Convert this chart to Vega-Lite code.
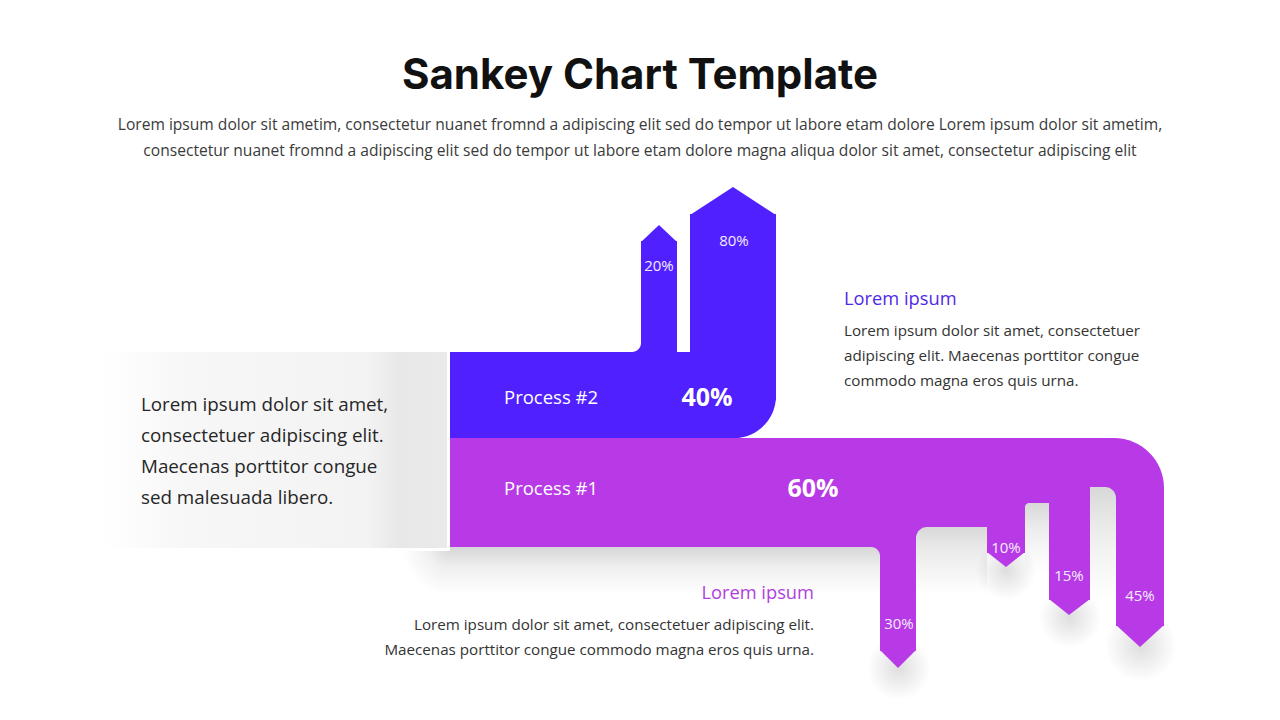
{
  "$schema": "https://vega.github.io/schema/vega-lite/v6.json",
  "width": 1280,
  "height": 720,
  "padding": 0,
  "autosize": {"type": "none"},
  "background": "#ffffff",
  "config": {"view": {"stroke": null}},
  "datasets": {
    "purpleBand": [{"x": 450, "x2": 1164, "y": 438, "y2": 547}],
    "purpleCols": [
      {"x": 880, "x2": 916, "y": 540, "y2": 651},
      {"x": 866, "x2": 916, "y": 540, "y2": 562},
      {"x": 987, "x2": 1025, "y": 540, "y2": 553},
      {"x": 1049, "x2": 1090, "y": 540, "y2": 600},
      {"x": 1116, "x2": 1164, "y": 500, "y2": 626}
    ],
    "purpleTips": [
      {"id": "p30", "x": 880, "y": 650, "y2": 645},
      {"id": "p30", "x": 898, "y": 668, "y2": 645},
      {"id": "p30", "x": 916, "y": 650, "y2": 645},
      {"id": "p10", "x": 987, "y": 552, "y2": 547},
      {"id": "p10", "x": 1006, "y": 567, "y2": 547},
      {"id": "p10", "x": 1025, "y": 552, "y2": 547},
      {"id": "p15", "x": 1049, "y": 599, "y2": 594},
      {"id": "p15", "x": 1069, "y": 615, "y2": 594},
      {"id": "p15", "x": 1090, "y": 599, "y2": 594},
      {"id": "p45", "x": 1116, "y": 625, "y2": 620},
      {"id": "p45", "x": 1140, "y": 647, "y2": 620},
      {"id": "p45", "x": 1164, "y": 625, "y2": 620}
    ],
    "tipShadows": [
      {"x": 867, "x2": 931, "y": 636, "y2": 700},
      {"x": 976, "x2": 1036, "y": 540, "y2": 600},
      {"x": 1039, "x2": 1101, "y": 586, "y2": 648},
      {"x": 1105, "x2": 1177, "y": 610, "y2": 682}
    ],
    "gapA": [{"x": 916, "x2": 987, "y": 527, "y2": 595}],
    "gapB": [{"x": 1025, "x2": 1049, "y": 503, "y2": 575}],
    "gapC": [{"x": 1090, "x2": 1116, "y": 487, "y2": 600}],
    "filletWhite": [{"x": 860, "x2": 880, "y": 547, "y2": 566}],
    "gapD": [{"x": 450, "x2": 880, "y": 547, "y2": 595}],
    "gapDLeft": [{"x": 402, "x2": 450, "y": 547, "y2": 595}],
    "boxWhite": [{"x": 100, "x2": 450, "y": 352, "y2": 551}],
    "box": [{"x": 100, "x2": 447, "y": 352, "y2": 548}],
    "blueBand": [{"x": 450, "x2": 776, "y": 352, "y2": 438}],
    "blueCols": [
      {"x": 690, "x2": 776, "y": 214, "y2": 400},
      {"x": 641, "x2": 677, "y": 241, "y2": 360},
      {"x": 626, "x2": 677, "y": 338, "y2": 360}
    ],
    "blueFillet": [{"x": 596, "x2": 641, "y": 318, "y2": 352}],
    "blueTips": [
      {"id": "b20", "x": 641, "y": 242, "y2": 248},
      {"id": "b20", "x": 659, "y": 225, "y2": 248},
      {"id": "b20", "x": 677, "y": 242, "y2": 248},
      {"id": "b80", "x": 690, "y": 215, "y2": 221},
      {"id": "b80", "x": 733, "y": 187, "y2": 221},
      {"id": "b80", "x": 776, "y": 215, "y2": 221}
    ],
    "title": [{"t": "Sankey Chart Template", "x": 640, "y": 89}],
    "subtitle": [
      {"t": "Lorem ipsum dolor sit ametim, consectetur nuanet fromnd a adipiscing elit sed do tempor ut labore etam dolore Lorem ipsum dolor sit ametim,", "x": 640, "y": 130},
      {"t": "consectetur nuanet fromnd a adipiscing elit sed do tempor ut labore etam dolore magna aliqua dolor sit amet, consectetur adipiscing elit", "x": 640, "y": 156}
    ],
    "boxText": [
      {"t": "Lorem ipsum dolor sit amet,", "x": 141, "y": 411},
      {"t": "consectetuer adipiscing elit.", "x": 141, "y": 442},
      {"t": "Maecenas porttitor congue", "x": 141, "y": 473},
      {"t": "sed malesuada libero.", "x": 141, "y": 504}
    ],
    "procLabels": [
      {"t": "Process #2", "x": 504, "y": 404},
      {"t": "Process #1", "x": 504, "y": 495}
    ],
    "procPct": [
      {"t": "40%", "x": 707, "y": 406},
      {"t": "60%", "x": 813, "y": 497}
    ],
    "smallPct": [
      {"t": "20%", "x": 659, "y": 271},
      {"t": "80%", "x": 734, "y": 246},
      {"t": "10%", "x": 1006, "y": 553},
      {"t": "15%", "x": 1069, "y": 581},
      {"t": "45%", "x": 1140, "y": 601},
      {"t": "30%", "x": 899, "y": 629}
    ],
    "headBlue": [{"t": "Lorem ipsum", "x": 844, "y": 305}],
    "headPurple": [{"t": "Lorem ipsum", "x": 814, "y": 599}],
    "paraRight": [
      {"t": "Lorem ipsum dolor sit amet, consectetuer", "x": 844, "y": 336},
      {"t": "adipiscing elit. Maecenas porttitor congue", "x": 844, "y": 361},
      {"t": "commodo magna eros quis urna.", "x": 844, "y": 386}
    ],
    "paraBottom": [
      {"t": "Lorem ipsum dolor sit amet, consectetuer adipiscing elit.", "x": 814, "y": 630},
      {"t": "Maecenas porttitor congue commodo magna eros quis urna.", "x": 814, "y": 655}
    ]
  },
  "layer": [
    {
      "data": {"name": "tipShadows"},
      "mark": {"type": "rect", "color": {"gradient": "radial", "x1": 0.5, "y1": 0.5, "r1": 0, "x2": 0.5, "y2": 0.5, "r2": 0.5, "stops": [{"offset": 0, "color": "rgba(0,0,0,0.13)"}, {"offset": 0.6, "color": "rgba(0,0,0,0.05)"}, {"offset": 1, "color": "rgba(0,0,0,0)"}]}},
      "encoding": {
        "x": {"field": "x", "type": "quantitative", "scale": {"domain": [0, 1280], "nice": false, "zero": false}, "axis": null},
        "x2": {"field": "x2"},
        "y": {"field": "y", "type": "quantitative", "scale": {"domain": [0, 720], "nice": false, "zero": false, "reverse": true}, "axis": null},
        "y2": {"field": "y2"}
      }
    },
    {
      "data": {"name": "purpleBand"},
      "mark": {"type": "rect", "color": "#B73AE6", "cornerRadiusTopRight": 50},
      "encoding": {
        "x": {"field": "x", "type": "quantitative", "scale": {"domain": [0, 1280], "nice": false, "zero": false}, "axis": null},
        "x2": {"field": "x2"},
        "y": {"field": "y", "type": "quantitative", "scale": {"domain": [0, 720], "nice": false, "zero": false, "reverse": true}, "axis": null},
        "y2": {"field": "y2"}
      }
    },
    {
      "data": {"name": "purpleCols"},
      "mark": {"type": "rect", "color": "#B73AE6"},
      "encoding": {
        "x": {"field": "x", "type": "quantitative", "scale": {"domain": [0, 1280], "nice": false, "zero": false}, "axis": null},
        "x2": {"field": "x2"},
        "y": {"field": "y", "type": "quantitative", "scale": {"domain": [0, 720], "nice": false, "zero": false, "reverse": true}, "axis": null},
        "y2": {"field": "y2"}
      }
    },
    {
      "data": {"name": "purpleTips"},
      "mark": {"type": "area", "color": "#B73AE6", "opacity": 1},
      "encoding": {
        "x": {"field": "x", "type": "quantitative", "scale": {"domain": [0, 1280], "nice": false, "zero": false}, "axis": null},
        "y": {"field": "y", "type": "quantitative", "scale": {"domain": [0, 720], "nice": false, "zero": false, "reverse": true}, "axis": null},
        "y2": {"field": "y2"},
        "detail": {"field": "id"}
      }
    },
    {
      "data": {"name": "gapA"},
      "mark": {"type": "rect", "cornerRadiusTopLeft": 11, "color": {"gradient": "linear", "x1": 0, "y1": 0, "x2": 0, "y2": 1, "stops": [{"offset": 0, "color": "#d8d8d8"}, {"offset": 0.3, "color": "#e9e9e9"}, {"offset": 0.3, "color": "rgba(0,0,0,0.085)"}, {"offset": 1, "color": "rgba(0,0,0,0)"}]}},
      "encoding": {
        "x": {"field": "x", "type": "quantitative", "scale": {"domain": [0, 1280], "nice": false, "zero": false}, "axis": null},
        "x2": {"field": "x2"},
        "y": {"field": "y", "type": "quantitative", "scale": {"domain": [0, 720], "nice": false, "zero": false, "reverse": true}, "axis": null},
        "y2": {"field": "y2"}
      }
    },
    {
      "data": {"name": "gapB"},
      "mark": {"type": "rect", "cornerRadiusTopLeft": 4, "color": {"gradient": "linear", "x1": 0, "y1": 0, "x2": 0, "y2": 1, "stops": [{"offset": 0, "color": "#d8d8d8"}, {"offset": 0.35, "color": "#ececec"}, {"offset": 0.62, "color": "#f6f6f6"}, {"offset": 0.62, "color": "rgba(0,0,0,0.035)"}, {"offset": 1, "color": "rgba(0,0,0,0)"}]}},
      "encoding": {
        "x": {"field": "x", "type": "quantitative", "scale": {"domain": [0, 1280], "nice": false, "zero": false}, "axis": null},
        "x2": {"field": "x2"},
        "y": {"field": "y", "type": "quantitative", "scale": {"domain": [0, 720], "nice": false, "zero": false, "reverse": true}, "axis": null},
        "y2": {"field": "y2"}
      }
    },
    {
      "data": {"name": "gapC"},
      "mark": {"type": "rect", "cornerRadiusTopRight": 11, "color": {"gradient": "linear", "x1": 0, "y1": 0, "x2": 0, "y2": 1, "stops": [{"offset": 0, "color": "#d8d8d8"}, {"offset": 0.3, "color": "#e8e8e8"}, {"offset": 0.535, "color": "#f2f2f2"}, {"offset": 0.535, "color": "rgba(0,0,0,0.05)"}, {"offset": 1, "color": "rgba(0,0,0,0)"}]}},
      "encoding": {
        "x": {"field": "x", "type": "quantitative", "scale": {"domain": [0, 1280], "nice": false, "zero": false}, "axis": null},
        "x2": {"field": "x2"},
        "y": {"field": "y", "type": "quantitative", "scale": {"domain": [0, 720], "nice": false, "zero": false, "reverse": true}, "axis": null},
        "y2": {"field": "y2"}
      }
    },
    {
      "data": {"name": "filletWhite"},
      "mark": {"type": "rect", "color": "#ffffff", "cornerRadiusTopRight": 9},
      "encoding": {
        "x": {"field": "x", "type": "quantitative", "scale": {"domain": [0, 1280], "nice": false, "zero": false}, "axis": null},
        "x2": {"field": "x2"},
        "y": {"field": "y", "type": "quantitative", "scale": {"domain": [0, 720], "nice": false, "zero": false, "reverse": true}, "axis": null},
        "y2": {"field": "y2"}
      }
    },
    {
      "data": {"name": "gapD"},
      "mark": {"type": "rect", "cornerRadiusTopRight": 9, "color": {"gradient": "linear", "x1": 0, "y1": 0, "x2": 0, "y2": 1, "stops": [{"offset": 0, "color": "rgba(0,0,0,0.16)"}, {"offset": 0.45, "color": "rgba(0,0,0,0.06)"}, {"offset": 1, "color": "rgba(0,0,0,0)"}]}},
      "encoding": {
        "x": {"field": "x", "type": "quantitative", "scale": {"domain": [0, 1280], "nice": false, "zero": false}, "axis": null},
        "x2": {"field": "x2"},
        "y": {"field": "y", "type": "quantitative", "scale": {"domain": [0, 720], "nice": false, "zero": false, "reverse": true}, "axis": null},
        "y2": {"field": "y2"}
      }
    },
    {
      "data": {"name": "gapDLeft"},
      "mark": {"type": "rect", "color": {"gradient": "radial", "x1": 1, "y1": 0, "r1": 0, "x2": 1, "y2": 0, "r2": 1, "stops": [{"offset": 0, "color": "rgba(0,0,0,0.16)"}, {"offset": 0.45, "color": "rgba(0,0,0,0.06)"}, {"offset": 1, "color": "rgba(0,0,0,0)"}]}},
      "encoding": {
        "x": {"field": "x", "type": "quantitative", "scale": {"domain": [0, 1280], "nice": false, "zero": false}, "axis": null},
        "x2": {"field": "x2"},
        "y": {"field": "y", "type": "quantitative", "scale": {"domain": [0, 720], "nice": false, "zero": false, "reverse": true}, "axis": null},
        "y2": {"field": "y2"}
      }
    },
    {
      "data": {"name": "boxWhite"},
      "mark": {"type": "rect", "color": "#ffffff"},
      "encoding": {
        "x": {"field": "x", "type": "quantitative", "scale": {"domain": [0, 1280], "nice": false, "zero": false}, "axis": null},
        "x2": {"field": "x2"},
        "y": {"field": "y", "type": "quantitative", "scale": {"domain": [0, 720], "nice": false, "zero": false, "reverse": true}, "axis": null},
        "y2": {"field": "y2"}
      }
    },
    {
      "data": {"name": "box"},
      "mark": {"type": "rect", "color": {"gradient": "linear", "x1": 0, "y1": 0, "x2": 1, "y2": 0, "stops": [{"offset": 0, "color": "#ffffff"}, {"offset": 0.25, "color": "#f7f7f7"}, {"offset": 0.77, "color": "#f3f3f3"}, {"offset": 0.86, "color": "#e8e8e8"}, {"offset": 1, "color": "#eaeaea"}]}},
      "encoding": {
        "x": {"field": "x", "type": "quantitative", "scale": {"domain": [0, 1280], "nice": false, "zero": false}, "axis": null},
        "x2": {"field": "x2"},
        "y": {"field": "y", "type": "quantitative", "scale": {"domain": [0, 720], "nice": false, "zero": false, "reverse": true}, "axis": null},
        "y2": {"field": "y2"}
      }
    },
    {
      "data": {"name": "blueBand"},
      "mark": {"type": "rect", "color": "#5120FF", "cornerRadiusBottomRight": 42},
      "encoding": {
        "x": {"field": "x", "type": "quantitative", "scale": {"domain": [0, 1280], "nice": false, "zero": false}, "axis": null},
        "x2": {"field": "x2"},
        "y": {"field": "y", "type": "quantitative", "scale": {"domain": [0, 720], "nice": false, "zero": false, "reverse": true}, "axis": null},
        "y2": {"field": "y2"}
      }
    },
    {
      "data": {"name": "blueCols"},
      "mark": {"type": "rect", "color": "#5120FF"},
      "encoding": {
        "x": {"field": "x", "type": "quantitative", "scale": {"domain": [0, 1280], "nice": false, "zero": false}, "axis": null},
        "x2": {"field": "x2"},
        "y": {"field": "y", "type": "quantitative", "scale": {"domain": [0, 720], "nice": false, "zero": false, "reverse": true}, "axis": null},
        "y2": {"field": "y2"}
      }
    },
    {
      "data": {"name": "blueFillet"},
      "mark": {"type": "rect", "color": "#ffffff", "cornerRadiusBottomRight": 9},
      "encoding": {
        "x": {"field": "x", "type": "quantitative", "scale": {"domain": [0, 1280], "nice": false, "zero": false}, "axis": null},
        "x2": {"field": "x2"},
        "y": {"field": "y", "type": "quantitative", "scale": {"domain": [0, 720], "nice": false, "zero": false, "reverse": true}, "axis": null},
        "y2": {"field": "y2"}
      }
    },
    {
      "data": {"name": "blueTips"},
      "mark": {"type": "area", "color": "#5120FF", "opacity": 1},
      "encoding": {
        "x": {"field": "x", "type": "quantitative", "scale": {"domain": [0, 1280], "nice": false, "zero": false}, "axis": null},
        "y": {"field": "y", "type": "quantitative", "scale": {"domain": [0, 720], "nice": false, "zero": false, "reverse": true}, "axis": null},
        "y2": {"field": "y2"},
        "detail": {"field": "id"}
      }
    },
    {
      "data": {"name": "title"},
      "mark": {"type": "text", "font": "Inter", "fontWeight": "bold", "fontSize": 42, "color": "#111111", "align": "center", "baseline": "alphabetic"},
      "encoding": {
        "x": {"field": "x", "type": "quantitative", "scale": {"domain": [0, 1280], "nice": false, "zero": false}, "axis": null},
        "y": {"field": "y", "type": "quantitative", "scale": {"domain": [0, 720], "nice": false, "zero": false, "reverse": true}, "axis": null},
        "text": {"field": "t"}
      }
    },
    {
      "data": {"name": "subtitle"},
      "mark": {"type": "text", "font": "Open Sans", "fontSize": 15.6, "color": "#3a3a3a", "align": "center", "baseline": "alphabetic"},
      "encoding": {
        "x": {"field": "x", "type": "quantitative", "scale": {"domain": [0, 1280], "nice": false, "zero": false}, "axis": null},
        "y": {"field": "y", "type": "quantitative", "scale": {"domain": [0, 720], "nice": false, "zero": false, "reverse": true}, "axis": null},
        "text": {"field": "t"}
      }
    },
    {
      "data": {"name": "boxText"},
      "mark": {"type": "text", "font": "Open Sans", "fontSize": 18.8, "color": "#262626", "align": "left", "baseline": "alphabetic"},
      "encoding": {
        "x": {"field": "x", "type": "quantitative", "scale": {"domain": [0, 1280], "nice": false, "zero": false}, "axis": null},
        "y": {"field": "y", "type": "quantitative", "scale": {"domain": [0, 720], "nice": false, "zero": false, "reverse": true}, "axis": null},
        "text": {"field": "t"}
      }
    },
    {
      "data": {"name": "procLabels"},
      "mark": {"type": "text", "font": "Open Sans", "fontSize": 18.5, "color": "#ffffff", "align": "left", "baseline": "alphabetic"},
      "encoding": {
        "x": {"field": "x", "type": "quantitative", "scale": {"domain": [0, 1280], "nice": false, "zero": false}, "axis": null},
        "y": {"field": "y", "type": "quantitative", "scale": {"domain": [0, 720], "nice": false, "zero": false, "reverse": true}, "axis": null},
        "text": {"field": "t"}
      }
    },
    {
      "data": {"name": "procPct"},
      "mark": {"type": "text", "font": "Open Sans", "fontWeight": "bold", "fontSize": 25, "color": "#ffffff", "align": "center", "baseline": "alphabetic"},
      "encoding": {
        "x": {"field": "x", "type": "quantitative", "scale": {"domain": [0, 1280], "nice": false, "zero": false}, "axis": null},
        "y": {"field": "y", "type": "quantitative", "scale": {"domain": [0, 720], "nice": false, "zero": false, "reverse": true}, "axis": null},
        "text": {"field": "t"}
      }
    },
    {
      "data": {"name": "smallPct"},
      "mark": {"type": "text", "font": "Open Sans", "fontSize": 15, "color": "#f4ecff", "align": "center", "baseline": "alphabetic"},
      "encoding": {
        "x": {"field": "x", "type": "quantitative", "scale": {"domain": [0, 1280], "nice": false, "zero": false}, "axis": null},
        "y": {"field": "y", "type": "quantitative", "scale": {"domain": [0, 720], "nice": false, "zero": false, "reverse": true}, "axis": null},
        "text": {"field": "t"}
      }
    },
    {
      "data": {"name": "headBlue"},
      "mark": {"type": "text", "font": "Open Sans", "fontSize": 18.3, "color": "#5128E8", "align": "left", "baseline": "alphabetic"},
      "encoding": {
        "x": {"field": "x", "type": "quantitative", "scale": {"domain": [0, 1280], "nice": false, "zero": false}, "axis": null},
        "y": {"field": "y", "type": "quantitative", "scale": {"domain": [0, 720], "nice": false, "zero": false, "reverse": true}, "axis": null},
        "text": {"field": "t"}
      }
    },
    {
      "data": {"name": "headPurple"},
      "mark": {"type": "text", "font": "Open Sans", "fontSize": 18.3, "color": "#B040DE", "align": "right", "baseline": "alphabetic"},
      "encoding": {
        "x": {"field": "x", "type": "quantitative", "scale": {"domain": [0, 1280], "nice": false, "zero": false}, "axis": null},
        "y": {"field": "y", "type": "quantitative", "scale": {"domain": [0, 720], "nice": false, "zero": false, "reverse": true}, "axis": null},
        "text": {"field": "t"}
      }
    },
    {
      "data": {"name": "paraRight"},
      "mark": {"type": "text", "font": "Open Sans", "fontSize": 15.2, "color": "#333333", "align": "left", "baseline": "alphabetic"},
      "encoding": {
        "x": {"field": "x", "type": "quantitative", "scale": {"domain": [0, 1280], "nice": false, "zero": false}, "axis": null},
        "y": {"field": "y", "type": "quantitative", "scale": {"domain": [0, 720], "nice": false, "zero": false, "reverse": true}, "axis": null},
        "text": {"field": "t"}
      }
    },
    {
      "data": {"name": "paraBottom"},
      "mark": {"type": "text", "font": "Open Sans", "fontSize": 15.2, "color": "#333333", "align": "right", "baseline": "alphabetic"},
      "encoding": {
        "x": {"field": "x", "type": "quantitative", "scale": {"domain": [0, 1280], "nice": false, "zero": false}, "axis": null},
        "y": {"field": "y", "type": "quantitative", "scale": {"domain": [0, 720], "nice": false, "zero": false, "reverse": true}, "axis": null},
        "text": {"field": "t"}
      }
    }
  ]
}
